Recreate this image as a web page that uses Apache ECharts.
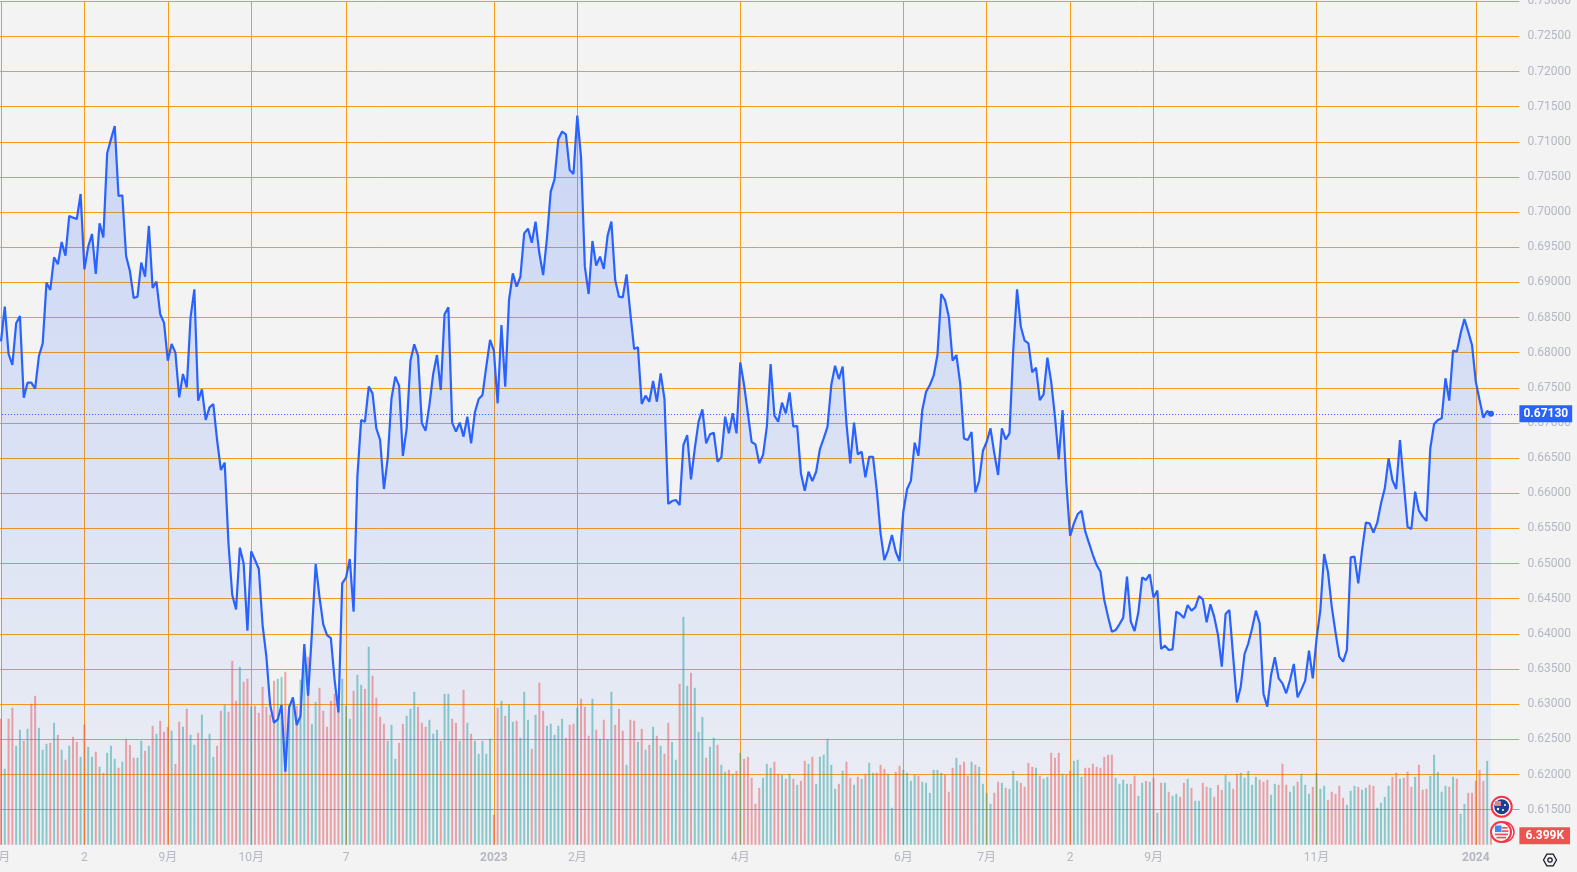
<!DOCTYPE html>
<html>
<head>
<meta charset="utf-8">
<style>html,body{margin:0;padding:0;background:#f3f3f3;overflow:hidden}#c{width:1577px;height:872px}</style>
<script src="https://cdn.jsdelivr.net/npm/echarts@6/dist/echarts.min.js"></script>
</head>
<body>
<div id="c"></div>
<script>
const closes = [
.6816,.68655,.67982,.67825,.68418,.68522,.6736,.67574,.67574,.67488,
.67953,.68133,.68996,.68892,.69357,.69257,.69575,.6938,.69945,.69921,
.69902,.70258,.69186,.69509,.69689,.6912,.6984,.69641,.70836,.71035,
.71225,.70229,.70239,.69376,.69162,.68778,.68797,.69281,.69082,.69803,
.68921,.69011,.68546,.68427,.67887,.68124,.68001,.67365,.67697,.67507,
.68503,.68902,.67318,.67479,.67043,.67223,.6727,.66758,.66331,.66436,
.65288,.64553,.64349,.65227,.65004,.64046,.65174,.65051,.64923,.64126,
.63676,.62988,.62737,.62784,.62988,.6204,.62955,.63097,.62704,.62832,
.63856,.63121,.64008,.64994,.64529,.64136,.63984,.63941,.63344,.62884,
.64719,.648,
.65065,.64316,.66237,.67043,.67019,.67517,.67422,.66924,.66758,.66061,
.66497,.67351,.67659,.67531,.66531,.66924,.67887,.68119,.67958,.66995,
.66891,.67256,.67697,.67967,.67469,.68546,.68645,.67005,.66877,.67005,
.66806,.6709,.66711,.67152,.67341,.67398,.67801,.68181,.68029,.6728,
.68394,.67517,.6875,.69129,.68939,.69082,.69698,.69765,.69565,.69864,
.69414,.69105,.69627,.70291,.70466,.71035,.71145,.71107,.70599,.70542,
.71372,.70779,.69224,.68835,.69589,.69238,.69366,.69191,.69665,.69864,
.69034,.68797,.68788,.69115,.6856,.68053,.68076,.6727,.67389,.67303,
.67597,.67303,.67707,.67341,.65848,.6589,.65905,.65833,.66687,.66829,
.66199,.6664,.67019,
.67194,.66711,.66839,.66863,.6645,.66512,.6709,.66853,.67138,.66853,
.67863,.6754,.67137,.66729,.66696,.66426,.66544,.66947,.67839,.67104,
.67018,.67289,.67137,.67436,.66947,.66961,.66283,.66037,.66307,.66174,
.66307,.6663,.66781,.66947,.6754,.67815,.67625,.67801,.66995,.66426,
.67004,.66554,.66592,.66226,.6652,.6652,.66046,.6543,.6505,.65193,
.65406,.65169,.65036,.65738,.66061,.66179,.6672,.66535,.67184,.67445,
.6754,.67673,.67967,.68835,.68749,.68512,.67886,.67967,.67564,.66781,
.66758,.66871,.66013,.66179,.66606,.66734,.66924,.66568,.6626,.66924,
.66767,.66852,.68038,.68901,.6837,.68171,.68133,.6772,.67787,.67327,
.67407,.67929,.67587,.6709,.66483,.67184,.66141,.65392,.65572,.65705,
.65752,.65454,.65288,.65122,.64979,.64885,
.64482,.64245,.64032,.64055,.64136,.64231,.64814,.64174,.64041,.64307,
.64805,.64767,.64847,.6452,.64615,.63785,.63833,.63771,.6378,.64316,
.64283,.64226,.64411,.64331,.64378,.64539,.64492,.64165,.64421,.64245,
.63984,.63534,.64283,.6434,.63676,.63026,.63249,.63714,.63866,.64079,
.64331,.6415,.63145,.62965,.63415,.63667,.63368,.63297,.63155,.63344,
.63572,.63098,.63211,.63335,.63761,.63368,.63937,.6434,.65137,.64885,
.64387,.64022,.63676,.63605,.63771,.65089,.65099,.64719,.65193,.65582,
.65573,.6544,.65582,.65857,.66071,.66498,.66189,.66061,.66758,.66142,
.65525,.65492,.66023,.65753,.65668,.65606,.6664,.66986,.67043,.67067,
.67636,.67318,.68029,.68015,.68276,.6848,.683,.6811,.67588,.67327,
.67076,.67171,.6713
];
const volumesK = [
88.2,53.2,88.2,95.9,69.3,80.5,72.8,81.2,98.7,104.3,
81.9,66.5,70.7,71.4,85.4,77,66.5,59.5,69.3,75.6,
72.1,61.6,84,68.6,61.6,65.1,54.6,50.4,64.4,69.3,
60.2,53.9,58.1,74.2,70,60.9,60.9,72.8,65.8,69.3,
83.3,77.7,86.8,79.1,82.6,79.8,56.7,86.1,82.6,95.2,
77,70,78.4,91,74.2,77.7,61.6,69.3,93.8,98,
93.1,128.8,100.8,124.6,114.1,116.2,96.6,97.3,92.4,110.6,
96.6,91,114.8,116.2,117.6,121.1,98,101.5,97.3,115.5,
127.2,131.6,84.7,100.1,109.9,93.8,82.6,100.8,105.7,98,
116.2,97.3,
88.2,107.8,119,112,109.2,138.6,118.3,102.9,89.6,84.7,
72.8,84,60.2,71.4,84.7,90.3,95.2,107.1,96.6,85.4,
82.6,87.5,77.7,80.5,72.8,105.7,105.7,88.2,85.4,72.8,
108.5,85.4,77.7,72.8,63.7,72.8,63.7,74.2,21,95.9,
100.8,90.3,98,86.1,86.8,74.9,107.1,87.5,67.2,91,
113.4,93.8,83.3,84.7,77,83.3,88.2,74.9,84,84.7,
95.9,102.2,96.6,76.3,102.2,80.5,74.2,87.5,73.5,107.1,
84,95.2,79.8,56,87.5,86.8,72.1,81.2,66.5,70,
82.6,76.3,69.3,63.7,85.4,72.1,59.5,112.7,159.6,111.3,
120.4,109.9,79.1,
89.6,60.9,68.6,74.9,70,56,51.1,52.5,49.7,51.8,
64.4,60.2,61.6,46.9,28.7,39.9,46.9,56.7,53.9,58.1,
49.7,49,46.2,49.7,46.2,42,44.8,58.8,56.7,61.6,
42.7,61.6,63,74.2,56,39.2,42.7,51.8,58.1,46.9,
42,47.6,46.2,49.7,57.4,50.4,50.4,56,53.2,49.7,
25.9,51.1,55.3,52.5,50.4,44.8,49,48.3,44.1,43.4,
36.4,52.5,52.5,50.4,49,37.1,53.9,60.9,56,58.1,
48.3,58.1,56,54.6,42.7,36.4,28.7,36.4,44.1,43.4,
39.9,39.2,51.8,44.8,43.4,40.6,57.4,54.6,53.9,48.3,
46.2,47.6,64.4,60.9,64.4,49.7,49,51.8,58.8,59.5,
47.6,53.9,53.9,56.7,54.6,53.9,
61.6,63,63,46.9,42.7,45.5,42.7,42.7,48.3,34.3,
43.4,44.8,44.1,46.9,22.4,43.4,43.4,37.1,34.3,35.7,
33.6,43.4,46.2,39.9,30.8,30.8,43.4,40.6,39.9,33.6,
42,38.5,49,44.1,39.2,49.7,50.4,46.9,51.8,42,
47.6,45.5,44.1,45.5,35,42.7,42,56.7,42,37.1,
41.3,44.1,49.7,42,35.7,40.6,50.4,39.2,41.3,31.5,
37.1,35.7,41.3,32.9,28,37.8,41.3,40.6,38.5,39.9,
42,41.3,25.9,29.4,33.6,41.3,47.6,50.4,46.2,46.9,
51.1,40.6,47.6,56,38.5,39.2,48.3,63,51.1,37.1,
41.3,40.6,47.6,46.2,21.7,28.7,36.4,36.4,44.8,52.5,
44.8,58.8,6.4
];
const volumeSides = [
"ptppttptpp","tttptptptp","ptpttptptt","tptpppttpt","ptppptpptp","ttptpttppt","ppptpptppp","pppttpttpt","tpttpppppp","tt",
"tpttptpppp","tttpptttpp","ptttpttppt","ptptttttpp","tpttptttpt","pptttttppp","tppptptptt","ppptpptptp","tptppttptt","ptt",
"tpttpttptp","tppppptttp","ptptptpptp","ttttttptpp","tptpttpppt","tppttttptt","ttttppptpp","ptpttttppt","ptttpppptp","ttppptpptt","tppppp",
"pppttttppt","tptptptptt","pptpttpptp","ppttpptttt","tpppttpppt","tptttptttp","pppptttptt","ppttttpptp","pptppptttt","tptpttpppp","ptp"
].join("");
const tickIndex = [0,22,44,66,91,130,152,195,238,260,282,304,347,389];
const tickLabels = ['8月','2','9月','10月','7','2023','2月','4月','6月','7月','2','9月','11月','2024'];
const lastPrice = 0.6713;
const lastVolume = 6.399;
const TOTAL_SLOTS = 401;

const tickSet = new Set(tickIndex);
const categories = Array.from({length: TOTAL_SLOTS}, (_, i) => {
  const k = tickIndex.indexOf(i);
  return k >= 0 ? tickLabels[k] : 'd' + i;
});
const GRID = '#FA9C12', FONT = 'Roboto, "Noto Sans CJK SC", sans-serif';
const LINE = '#2962FF', UP = 'rgba(38,166,154,0.5)', DOWN = 'rgba(239,83,80,0.5)';

const chart = echarts.init(document.getElementById('c'), null, {renderer: 'canvas'});
chart.setOption({
  animation: false,
  backgroundColor: '#F3F3F3',
  tooltip: {show: false},
  grid: {left: -0.9, top: 1.2, width: 1520.3, height: 843.6, containLabel: false, outerBoundsMode: 'none'},
  xAxis: {
    type: 'category', data: categories, boundaryGap: true,
    axisLine: {show: false}, axisTick: {show: false},
    splitLine: {show: true, alignWithLabel: true, interval: i => tickSet.has(i), lineStyle: {color: GRID, width: 1}},
    axisLabel: {
      show: true, interval: i => tickSet.has(i), margin: 7, hideOverlap: false,
      color: '#B4B7C2', fontSize: 12, fontFamily: FONT,
      formatter: v => /^20/.test(v) ? '{y|' + v + '}' : v,
      rich: {y: {fontWeight: 'bold', fontSize: 12, color: '#B4B7C2', fontFamily: FONT}}
    }
  },
  yAxis: [{
    type: 'value', position: 'right', min: 0.61, max: 0.73, interval: 0.005,
    axisLine: {show: false}, axisTick: {show: false},
    splitLine: {show: true, showMinLine: false, lineStyle: {color: GRID, width: 1}},
    axisLabel: {margin: 8, color: '#B4B7C2', fontSize: 12, fontFamily: FONT,
      formatter: v => v <= 0.6101 ? '' : v.toFixed(5)}
  }, {
    type: 'value', min: 0, max: 590.5, show: false, splitLine: {show: false}
  }],
  series: [{
    name: 'volume', type: 'bar', yAxisIndex: 1, barWidth: 2, z: 2, silent: true,
    data: volumesK.map((v, i) => ({value: v, itemStyle: {color: volumeSides[i] === 't' ? UP : DOWN}})),
    markLine: {
      silent: true, symbol: 'none', z: 20, precision: 6,
      lineStyle: {width: 1, color: 'rgba(0,0,0,0)'},
      label: {show: true, position: 'end', distance: 0, formatter: lastVolume.toFixed(3) + 'K',
        backgroundColor: '#EF5350', color: '#fff', fontSize: 12, fontWeight: 'bold', fontFamily: FONT,
        padding: [3, 6, 2, 6], lineHeight: 12},
      data: [{yAxis: lastVolume}]
    }
  }, {
    name: 'price', type: 'line', yAxisIndex: 0, z: 3, silent: true,
    data: closes, showSymbol: false, symbol: 'none',
    lineStyle: {color: LINE, width: 2.2},
    areaStyle: {opacity: 1, color: new echarts.graphic.LinearGradient(0, 0, 0, 1, [
      {offset: 0, color: 'rgba(41,98,255,0.2)'}, {offset: 1, color: 'rgba(41,98,255,0.03)'}])},
    markLine: {
      silent: true, symbol: 'none', z: 20, precision: 6,
      lineStyle: {color: LINE, type: [1, 2], width: 1},
      label: {show: true, position: 'end', distance: 0, formatter: lastPrice.toFixed(5),
        backgroundColor: LINE, color: '#fff', fontSize: 12, fontWeight: 'bold', fontFamily: FONT,
        padding: [3, 4, 2, 4], lineHeight: 12},
      data: [{yAxis: lastPrice}]
    },
    markPoint: {
      silent: true, symbol: 'circle', symbolSize: 6, itemStyle: {color: LINE}, label: {show: false},
      data: [{coord: [closes.length - 1, lastPrice]}]
    }
  }],
  graphic: [
    {type: 'circle', z: 30, shape: {cx: 1501.7, cy: 806.7, r: 10}, style: {fill: '#fff', stroke: '#F23645', lineWidth: 2}},
    {type: 'circle', z: 31, shape: {cx: 1501.7, cy: 806.7, r: 7.5}, style: {fill: '#1C3F94'}},
    {type: 'rect', z: 32, shape: {x: 1495, y: 801, width: 6, height: 5}, style: {fill: '#D88A94'}},
    {type: 'circle', z: 32, shape: {cx: 1505, cy: 805, r: 1}, style: {fill: '#fff'}},
    {type: 'circle', z: 32, shape: {cx: 1503, cy: 810, r: 1}, style: {fill: '#fff'}},
    {type: 'circle', z: 32, shape: {cx: 1498, cy: 809, r: 1.2}, style: {fill: '#fff'}},
    {type: 'circle', z: 29, shape: {cx: 1504, cy: 832, r: 10}, style: {fill: '#fff', stroke: '#F23645', lineWidth: 1.5}},
    {type: 'circle', z: 30, shape: {cx: 1501, cy: 832, r: 10}, style: {fill: '#fff', stroke: '#F23645', lineWidth: 2}},
    {type: 'circle', z: 31, shape: {cx: 1501, cy: 832, r: 7.5}, style: {fill: '#EEF0F4'}},
    {type: 'rect', z: 32, shape: {x: 1495, y: 825.5, width: 6.5, height: 6.5}, style: {fill: '#3D8BEB'}},
    {type: 'rect', z: 32, shape: {x: 1502, y: 827, width: 5.5, height: 1.6}, style: {fill: '#E8505B'}},
    {type: 'rect', z: 32, shape: {x: 1502, y: 830.3, width: 6.5, height: 1.6}, style: {fill: '#E8505B'}},
    {type: 'rect', z: 32, shape: {x: 1495, y: 833.6, width: 13, height: 1.6}, style: {fill: '#E8505B'}},
    {type: 'rect', z: 32, shape: {x: 1496.5, y: 836.8, width: 9.5, height: 1.6}, style: {fill: '#E8505B'}},
    {type: 'polygon', z: 30, shape: {points: [[1556.5, 860], [1553.2, 865.8], [1546.8, 865.8], [1543.5, 860], [1546.8, 854.2], [1553.2, 854.2]]}, style: {fill: 'none', stroke: '#131722', lineWidth: 1.2}},
    {type: 'circle', z: 30, shape: {cx: 1550, cy: 860, r: 2.2}, style: {fill: 'none', stroke: '#131722', lineWidth: 1.2}}
  ]
});
</script>
</body>
</html>
